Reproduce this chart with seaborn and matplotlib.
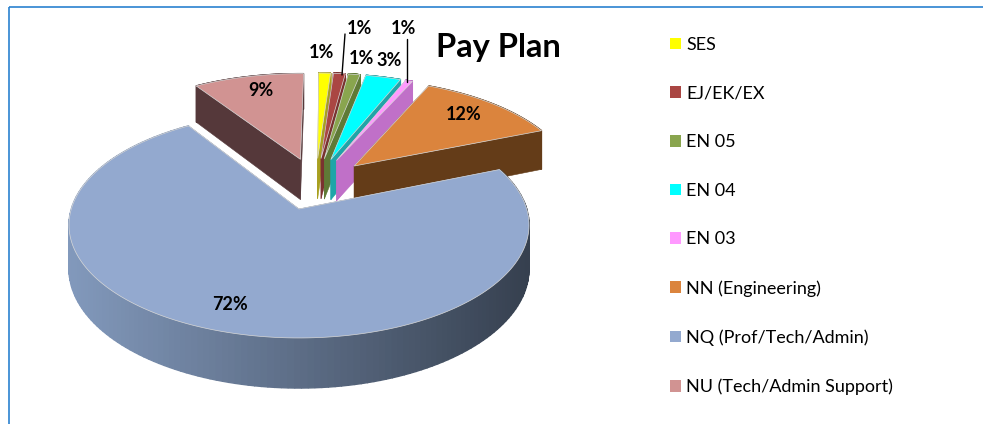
import matplotlib.pyplot as plt
from matplotlib.colors import to_rgb
from matplotlib.patches import Patch, Rectangle
import numpy as np
import seaborn as sns

categories = ["SES", "EJ/EK/EX", "EN 05", "EN 04", "EN 03",
              "NN (Engineering)", "NQ (Prof/Tech/Admin)", "NU (Tech/Admin Support)"]
shares = [1, 1, 1, 3, 0.6, 12, 72, 9.4]
top_colors = ["#FFFF00", "#AA4643", "#89A54E", "#00FFFF", "#FF99FF",
              "#DB843D", "#93A9CF", "#D19392"]
side_colors = ["#A8A020", "#7A3230", "#5F7A36", "#1FA5A8", "#C070C8",
               "#643C18", "#5F6F8C", "#55383A"]
title = "Pay Plan"

sns.set_theme(style="white")
plt.rcParams["font.family"] = ["Lato", "DejaVu Sans"]

fig = plt.figure(figsize=(9.83, 4.24), dpi=100, facecolor="white")
ax = fig.add_axes([0, 0, 1, 1])
ax.set_xlim(0, 983)
ax.set_ylim(424, 0)
ax.axis("off")

# pie on a hidden axes, only to get the wedge geometry
pie_ax = fig.add_axes([0, 0, 0.01, 0.01])
wedges, _ = pie_ax.pie(shares, startangle=89, counterclock=False, explode=[0.25] * len(shares))
pie_ax.set_visible(False)

# perspective fitted to the big slice
origin = wedges[6].center
apex_x, apex_y = 299, 209
scale_x, scale_y, tilt = 227.7, 110.7, 0.1416


def project(u, v):
    u = np.asarray(u) - origin[0]
    v = np.asarray(v) - origin[1]
    w = 1 + tilt * v
    return apex_x + scale_x * u / w, apex_y - scale_y * v / w, 43 / w


# back to front
order = [7, 0, 1, 2, 3, 4, 5, 6]
for i in order:
    wd = wedges[i]
    t = np.radians(np.linspace(wd.theta1, wd.theta2, 180))
    cu, cv = wd.center
    u = cu + np.cos(t)
    v = cv + np.sin(t)
    x, y, d = project(u, v)
    ax_, ay_, ad_ = project(cu, cv)

    # radial faces
    for xe, ye, de in [(x[0], y[0], d[0]), (x[-1], y[-1], d[-1])]:
        ax.fill([ax_, xe, xe, ax_], [ay_, ye, ye + de, ay_ + ad_],
                color=side_colors[i], lw=0.4, zorder=2 + order.index(i))

    # rim, in strips so the big slice can shade left to right
    for j in range(len(t) - 1):
        if i == 6:
            f = np.clip((x[j] - 69) / 459, 0, 1)
            c = (1 - f) * np.array(to_rgb("#8299BC")) + f * np.array(to_rgb("#36404F"))
        else:
            c = to_rgb(side_colors[i])
        ax.fill([x[j], x[j + 1], x[j + 1], x[j]],
                [y[j], y[j + 1], y[j + 1] + d[j + 1], y[j] + d[j]],
                color=c, lw=1, zorder=2 + order.index(i))

    ax.fill(np.r_[ax_, x], np.r_[ay_, y], facecolor=top_colors[i],
            edgecolor="#D8D8D8", lw=0.5, zorder=2 + order.index(i))

# data labels
label_pos = [(322, 53), (360, 29), (361, 59), (389, 61), (404, 29), (464, 115), (230, 304), (261, 91)]
for share, (lx, ly) in zip(shares, label_pos):
    ax.text(lx, ly, f"{share:.0f}%", ha="center", va="center", fontsize=13,
            fontweight="bold", color="black", zorder=20)

# leader lines
ax.plot([345, 342], [34, 75], color="black", lw=1, zorder=19)
ax.plot([407, 407], [39, 82], color="black", lw=1, zorder=19)

ax.text(498, 47, title, ha="center", va="center", fontsize=23.5,
        fontweight="bold", color="black", zorder=20)

handles = [Patch(facecolor=c, edgecolor="none") for c in top_colors]
ax.legend(handles, categories, loc="upper left", bbox_to_anchor=(662.5 / 983, 1 - 29.5 / 424),
          frameon=False, fontsize=13, handlelength=0.62, handleheight=0.62,
          handletextpad=0.3, labelspacing=1.81, labelcolor="black",
          borderpad=0.4, borderaxespad=0)

# blue frame running off the picture
ax.add_patch(Rectangle((9, 7), 1100, 500, fill=False, edgecolor="#2B82D0", lw=1.2, zorder=30))

fig.savefig("out.png", dpi=100)
plt.close()
